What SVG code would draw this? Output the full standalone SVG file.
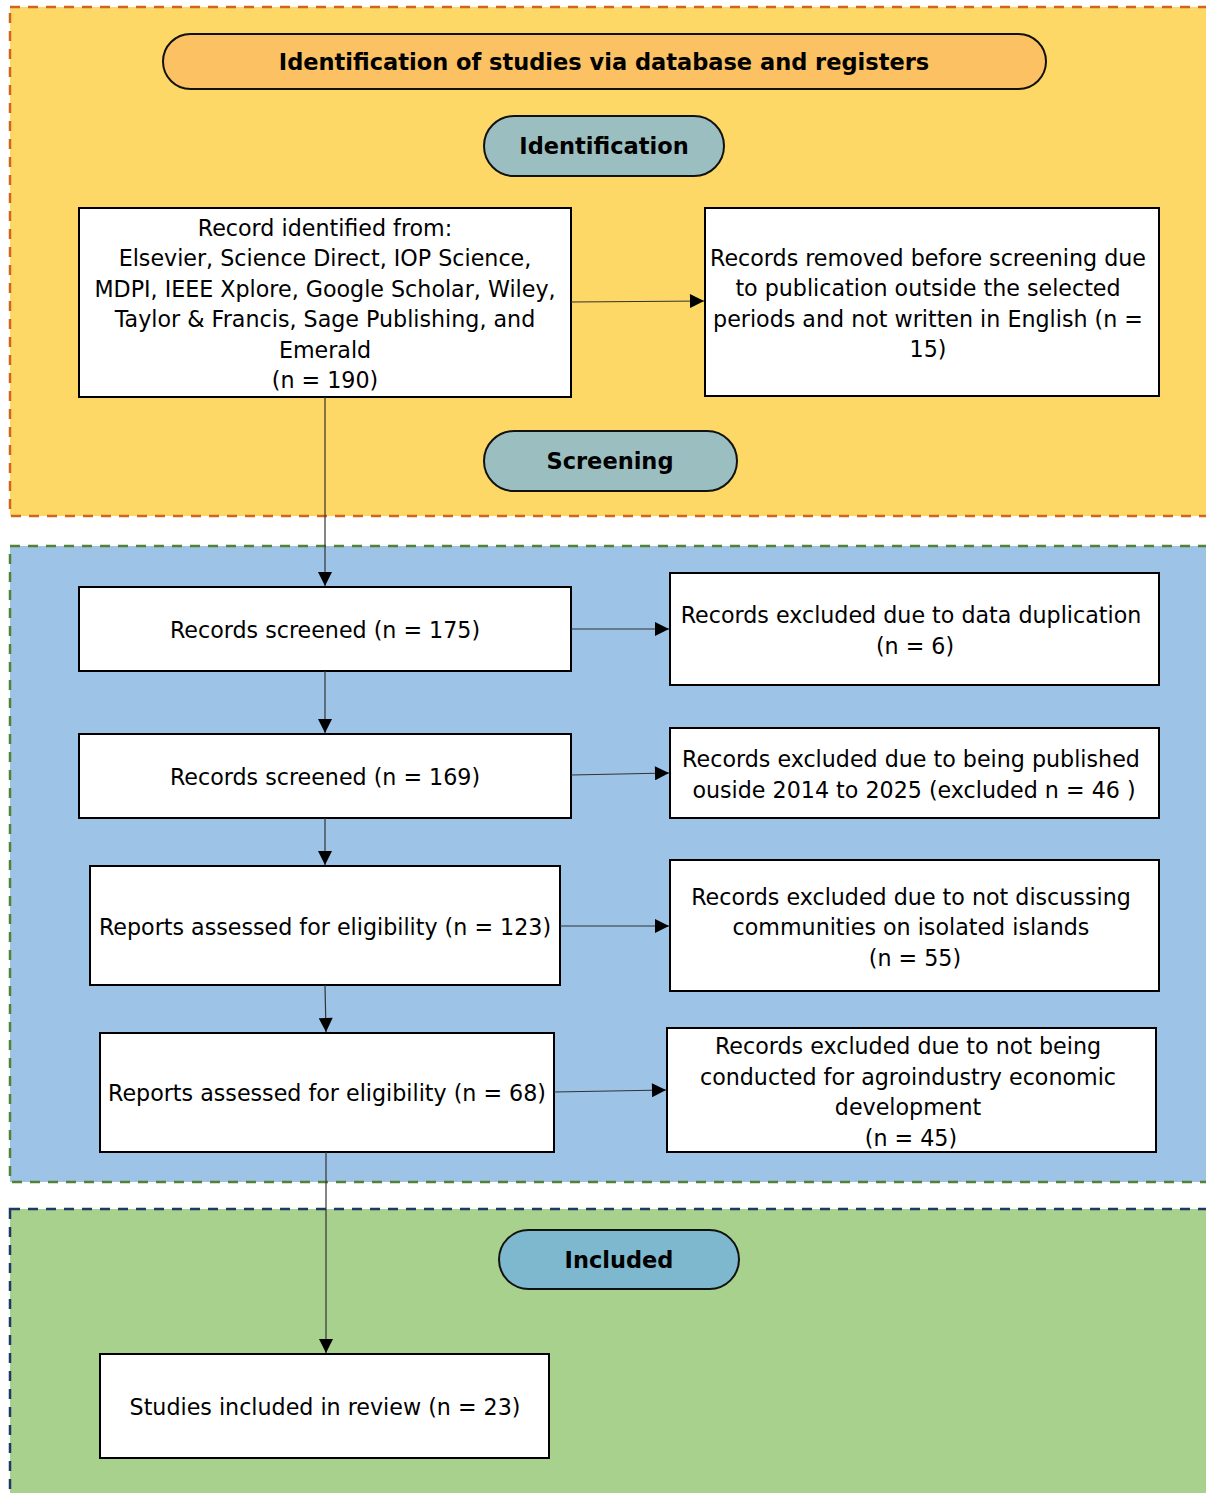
<svg xmlns="http://www.w3.org/2000/svg" width="1206" height="1493" viewBox="0 0 1206 1493">
<defs>
<marker id="arr" viewBox="0 0 10 10" refX="10" refY="5" markerWidth="15" markerHeight="14" markerUnits="userSpaceOnUse" orient="auto">
<path d="M0,0 L10,5 L0,10 z" fill="#000"/>
</marker>
</defs>
<style>
.t{font-family:"DejaVu Sans","Liberation Sans",sans-serif;font-size:22.2px;fill:#000;text-anchor:middle}
.b{font-family:"DejaVu Sans","Liberation Sans",sans-serif;font-size:22.5px;font-weight:bold;fill:#000;text-anchor:middle}
.box{fill:#fff;stroke:#000;stroke-width:2}
.pill{stroke:#111;stroke-width:2}
.c{stroke:#333;stroke-width:1.2;fill:none;marker-end:url(#arr)}
</style>
<g id="regions">
<rect id="region-identification" x="10" y="7" width="1200" height="509" fill="#FDD866" stroke="#D0661C" stroke-width="2.5" stroke-dasharray="10,8"/>
<rect id="region-screening" x="10" y="546" width="1200" height="636" fill="#9DC3E6" stroke="#538135" stroke-width="2.5" stroke-dasharray="10,8"/>
<rect id="region-included" x="10" y="1209" width="1200" height="290" fill="#A9D18E" stroke="#1F3864" stroke-width="2.5" stroke-dasharray="10,8"/>
</g>
<g id="title"><rect class="pill" x="163" y="34" width="883" height="55" rx="27.5" fill="#FBC163"/><text class="b" x="604" y="70">Identification of studies via database and registers</text></g>
<g id="lbl-identification"><rect class="pill" x="484" y="116" width="240" height="60" rx="30" fill="#9BBFC1"/><text class="b" x="604" y="154">Identification</text></g>
<g id="lbl-screening"><rect class="pill" x="484" y="431" width="253" height="60" rx="30" fill="#9BBFC1"/><text class="b" x="610" y="469">Screening</text></g>
<g id="lbl-included"><rect class="pill" x="499" y="1230" width="240" height="59" rx="29.5" fill="#7DB8CF"/><text class="b" x="619" y="1268">Included</text></g>
<g id="n1"><rect class="box" x="79" y="208" width="492" height="189"/>
<text class="t"><tspan x="325" y="236">Record identified from:</tspan><tspan x="325" y="266">Elsevier, Science Direct, IOP Science,</tspan><tspan x="325" y="297">MDPI, IEEE Xplore, Google Scholar, Wiley,</tspan><tspan x="325" y="327">Taylor &amp; Francis, Sage Publishing, and</tspan><tspan x="325" y="358">Emerald</tspan><tspan x="325" y="388">(n = 190)</tspan></text></g>
<g id="n2"><rect class="box" x="705" y="208" width="454" height="188"/>
<text class="t"><tspan x="928" y="266">Records removed before screening due</tspan><tspan x="928" y="296">to publication outside the selected</tspan><tspan x="928" y="327">periods and not written in English (n =</tspan><tspan x="928" y="357">15)</tspan></text></g>
<g id="n3"><rect class="box" x="79" y="587" width="492" height="84"/><text class="t" x="325" y="638">Records screened (n = 175)</text></g>
<g id="n4"><rect class="box" x="670" y="573" width="489" height="112"/>
<text class="t"><tspan x="911" y="623">Records excluded due to data duplication</tspan><tspan x="915" y="654">(n = 6)</tspan></text></g>
<g id="n5"><rect class="box" x="79" y="734" width="492" height="84"/><text class="t" x="325" y="785">Records screened (n = 169)</text></g>
<g id="n6"><rect class="box" x="670" y="728" width="489" height="90"/>
<text class="t"><tspan x="911" y="767">Records excluded due to being published</tspan><tspan x="914" y="798">ouside 2014 to 2025 (excluded n = 46 )</tspan></text></g>
<g id="n7"><rect class="box" x="90" y="866" width="470" height="119"/><text class="t" x="325" y="935">Reports assessed for eligibility (n = 123)</text></g>
<g id="n8"><rect class="box" x="670" y="860" width="489" height="131"/>
<text class="t"><tspan x="911" y="905">Records excluded due to not discussing</tspan><tspan x="911" y="935">communities on isolated islands</tspan><tspan x="915" y="966">(n = 55)</tspan></text></g>
<g id="n9"><rect class="box" x="100" y="1033" width="454" height="119"/><text class="t" x="327" y="1101">Reports assessed for eligibility (n = 68)</text></g>
<g id="n10"><rect class="box" x="667" y="1028" width="489" height="124"/>
<text class="t"><tspan x="908" y="1054">Records excluded due to not being</tspan><tspan x="908" y="1085">conducted for agroindustry economic</tspan><tspan x="908" y="1115">development</tspan><tspan x="911" y="1146">(n = 45)</tspan></text></g>
<g id="n11"><rect class="box" x="100" y="1354" width="449" height="104"/><text class="t" x="325" y="1415">Studies included in review (n = 23)</text></g>
<g id="connectors">
<path class="c" d="M571,302 L704,301"/>
<path class="c" d="M325,397 L325,586"/>
<path class="c" d="M571,629 L669,629"/>
<path class="c" d="M325,671 L325,733"/>
<path class="c" d="M571,775 L669,773"/>
<path class="c" d="M325,818 L325,865"/>
<path class="c" d="M560,926 L669,926"/>
<path class="c" d="M325,985 L326,1032"/>
<path class="c" d="M554,1092 L666,1090"/>
<path class="c" d="M326,1152 L326,1353"/>
</g>
</svg>
